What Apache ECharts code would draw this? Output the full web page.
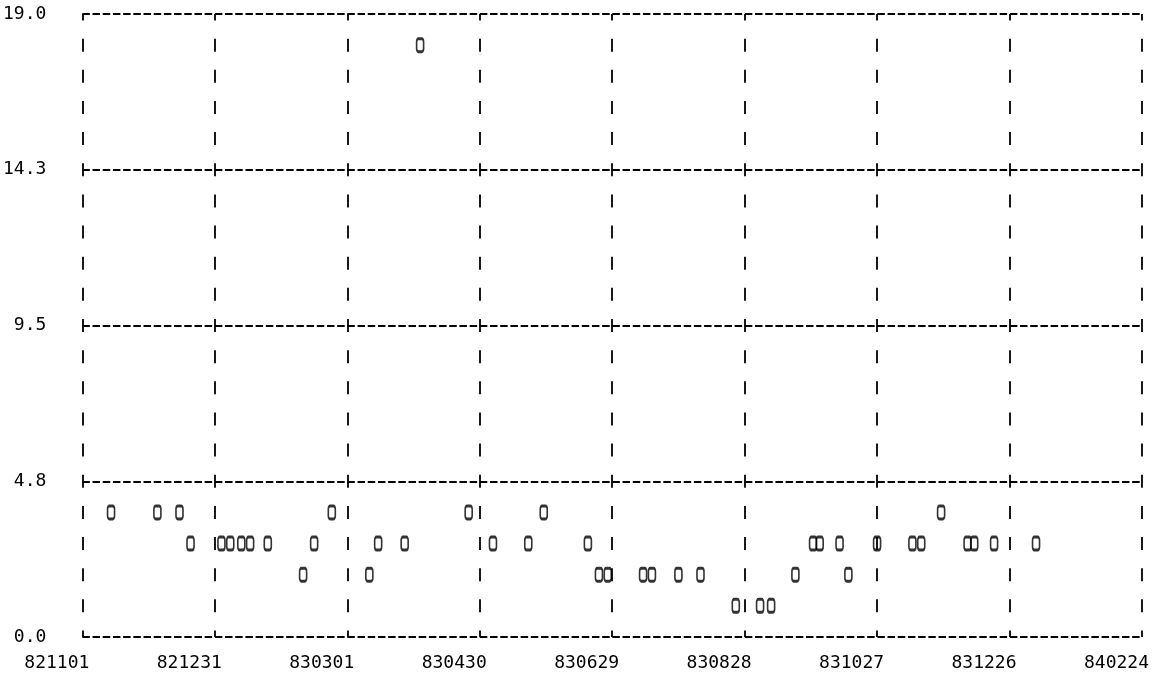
<!DOCTYPE html>
<html>
<head>
<meta charset="utf-8">
<script src="https://cdn.jsdelivr.net/npm/echarts@6/dist/echarts.min.js"></script>
<style>
  html, body { margin: 0; padding: 0; background: #fff; }
  #chart { width: 1155px; height: 678px; }
</style>
</head>
<body>
<div id="chart"></div>
<script>
// Tick labels (x: YYMMDD every 60 days, y: five levels)
const xTickLabels = ['821101', '821231', '830301', '830430', '830629', '830828', '831027', '831226', '840224'];
const yTickLabels = ['0.0', '4.8', '9.5', '14.3', '19.0'];

// Observation dates (YYMMDD) and their values
const obsDates = [
  '821114', '821205', '821215', '821220', '830103', '830107', '830112', '830116',
  '830124', '830209', '830214', '830222', '830311', '830315', '830327', '830403',
  '830425', '830506', '830522', '830529', '830618', '830623', '830627', '830713',
  '830717', '830729', '830808', '830824', '830904', '830909', '830920', '830928',
  '831001', '831010', '831014', '831027', '831112', '831116', '831125', '831207',
  '831210', '831219', '840107'
];
const obsValues = [
  3.8, 3.8, 3.8, 2.85, 2.85, 2.85, 2.85, 2.85,
  2.85, 1.9, 2.85, 3.8, 1.9, 2.85, 2.85, 18.05,
  3.8, 2.85, 2.85, 3.8, 2.85, 1.9, 1.9, 1.9,
  1.9, 1.9, 1.9, 0.95, 0.95, 0.95, 1.9, 2.85,
  2.85, 2.85, 1.9, 2.85, 2.85, 2.85, 3.8, 2.85,
  2.85, 2.85, 2.85
];

// Days elapsed since the first x tick (821101)
const DAY_MS = 86400000;
const ORIGIN = Date.UTC(1982, 10, 1);
function dayIndex(s) {
  const yy = 1900 + parseInt(s.slice(0, 2), 10);
  const mm = parseInt(s.slice(2, 4), 10) - 1;
  const dd = parseInt(s.slice(4, 6), 10);
  return Math.round((Date.UTC(yy, mm, dd) - ORIGIN) / DAY_MS);
}

const X_STEP = 60;
const Y_STEP = 4.75;
const X_MAX = X_STEP * (xTickLabels.length - 1);
const Y_MAX = Y_STEP * (yTickLabels.length - 1);

const GRID_TOP = 14;
const GRID_BOTTOM = 41;
const GRID_H = 678 - GRID_TOP - GRID_BOTTOM;
const ROW = GRID_H / 20;          // printer row pitch
const COL = 1060 / 104;           // printer column pitch

const ink = '#000';
const font = '"DejaVu Sans Mono", "Liberation Mono", monospace';

const points = obsDates.map((d, i) => [dayIndex(d), obsValues[i]]);

const chart = echarts.init(document.getElementById('chart'), null, { renderer: 'canvas' });
chart.setOption({
  animation: false,
  backgroundColor: '#fff',
  grid: { left: 82, right: 13, top: GRID_TOP, bottom: GRID_BOTTOM, containLabel: false },
  xAxis: {
    type: 'value',
    min: 0,
    max: X_MAX,
    interval: X_STEP,
    axisLine: { show: false },
    axisTick: { show: false },
    axisLabel: {
      formatter: v => xTickLabels[Math.round(v / X_STEP)],
      align: 'right',
      padding: [0, -7, 0, 0],
      margin: 17,
      color: ink,
      fontFamily: font,
      fontSize: 18
    },
    splitLine: {
      show: true,
      lineStyle: { color: ink, width: 1.8, type: [13, ROW - 13], dashOffset: 6.5 }
    }
  },
  yAxis: {
    type: 'value',
    min: 0,
    max: Y_MAX,
    interval: Y_STEP,
    axisLine: { show: false },
    axisTick: { show: false },
    axisLabel: {
      formatter: v => yTickLabels[Math.round(v / Y_STEP)],
      margin: 36,
      color: ink,
      fontFamily: font,
      fontSize: 18
    },
    splitLine: {
      show: true,
      lineStyle: { color: ink, width: 1.8, type: [7.5, COL - 7.5] }
    }
  },
  series: [{
    type: 'scatter',
    data: points,
    symbol: 'roundRect',
    symbolSize: [7, 13],
    itemStyle: { color: 'rgba(0,0,0,0)', borderColor: ink, borderWidth: 2.2 },
    emphasis: { disabled: true },
    z: 3
  }]
});
</script>
</body>
</html>
